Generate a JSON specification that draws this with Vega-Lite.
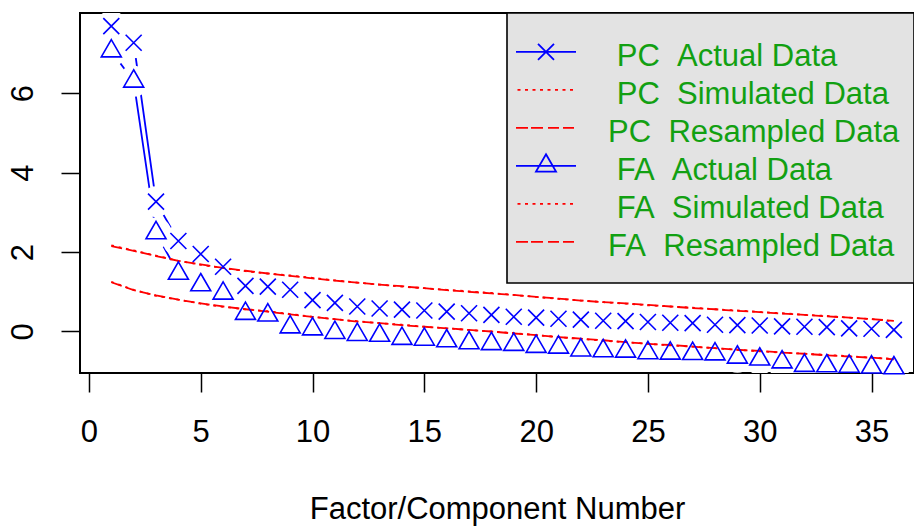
{
  "$schema": "https://vega.github.io/schema/vega-lite/v6.json",
  "width": 834,
  "height": 360,
  "padding": {"left": 80, "top": 13, "right": 0, "bottom": 153},
  "autosize": {"type": "none"},
  "background": "white",
  "datasets": {
    "ev": [
      {"n": 1, "pc": 7.69, "fa": 7.06, "pcs": 2.17, "pcr": 2.15, "fas": 1.25, "far": 1.24},
      {"n": 2, "pc": 7.27, "fa": 6.30, "pcs": 2.04, "pcr": 2.03, "fas": 1.05, "far": 1.04},
      {"n": 3, "pc": 3.27, "fa": 2.48, "pcs": 1.91, "pcr": 1.90, "fas": 0.90, "far": 0.91},
      {"n": 4, "pc": 2.28, "fa": 1.46, "pcs": 1.78, "pcr": 1.78, "fas": 0.80, "far": 0.80},
      {"n": 5, "pc": 1.95, "fa": 1.17, "pcs": 1.68, "pcr": 1.69, "fas": 0.70, "far": 0.71},
      {"n": 6, "pc": 1.63, "fa": 0.96, "pcs": 1.60, "pcr": 1.60, "fas": 0.62, "far": 0.63},
      {"n": 7, "pc": 1.15, "fa": 0.45, "pcs": 1.52, "pcr": 1.53, "fas": 0.56, "far": 0.56},
      {"n": 8, "pc": 1.13, "fa": 0.41, "pcs": 1.46, "pcr": 1.46, "fas": 0.51, "far": 0.50},
      {"n": 9, "pc": 1.05, "fa": 0.11, "pcs": 1.41, "pcr": 1.40, "fas": 0.44, "far": 0.43},
      {"n": 10, "pc": 0.79, "fa": 0.06, "pcs": 1.35, "pcr": 1.34, "fas": 0.37, "far": 0.37},
      {"n": 11, "pc": 0.72, "fa": -0.03, "pcs": 1.29, "pcr": 1.28, "fas": 0.31, "far": 0.31},
      {"n": 12, "pc": 0.63, "fa": -0.08, "pcs": 1.23, "pcr": 1.23, "fas": 0.26, "far": 0.25},
      {"n": 13, "pc": 0.58, "fa": -0.10, "pcs": 1.18, "pcr": 1.18, "fas": 0.21, "far": 0.21},
      {"n": 14, "pc": 0.55, "fa": -0.18, "pcs": 1.13, "pcr": 1.14, "fas": 0.17, "far": 0.16},
      {"n": 15, "pc": 0.53, "fa": -0.20, "pcs": 1.09, "pcr": 1.09, "fas": 0.12, "far": 0.12},
      {"n": 16, "pc": 0.50, "fa": -0.24, "pcs": 1.05, "pcr": 1.04, "fas": 0.08, "far": 0.08},
      {"n": 17, "pc": 0.46, "fa": -0.29, "pcs": 1.01, "pcr": 1.00, "fas": 0.04, "far": 0.04},
      {"n": 18, "pc": 0.42, "fa": -0.31, "pcs": 0.97, "pcr": 0.96, "fas": 0.00, "far": 0.00},
      {"n": 19, "pc": 0.37, "fa": -0.33, "pcs": 0.92, "pcr": 0.92, "fas": -0.04, "far": -0.05},
      {"n": 20, "pc": 0.35, "fa": -0.38, "pcs": 0.87, "pcr": 0.87, "fas": -0.09, "far": -0.09},
      {"n": 21, "pc": 0.32, "fa": -0.40, "pcs": 0.82, "pcr": 0.83, "fas": -0.14, "far": -0.14},
      {"n": 22, "pc": 0.30, "fa": -0.47, "pcs": 0.78, "pcr": 0.78, "fas": -0.19, "far": -0.18},
      {"n": 23, "pc": 0.27, "fa": -0.49, "pcs": 0.74, "pcr": 0.74, "fas": -0.23, "far": -0.22},
      {"n": 24, "pc": 0.26, "fa": -0.50, "pcs": 0.70, "pcr": 0.71, "fas": -0.27, "far": -0.27},
      {"n": 25, "pc": 0.24, "fa": -0.54, "pcs": 0.66, "pcr": 0.67, "fas": -0.31, "far": -0.31},
      {"n": 26, "pc": 0.22, "fa": -0.55, "pcs": 0.63, "pcr": 0.63, "fas": -0.35, "far": -0.34},
      {"n": 27, "pc": 0.21, "fa": -0.56, "pcs": 0.60, "pcr": 0.59, "fas": -0.38, "far": -0.38},
      {"n": 28, "pc": 0.17, "fa": -0.57, "pcs": 0.56, "pcr": 0.56, "fas": -0.42, "far": -0.42},
      {"n": 29, "pc": 0.16, "fa": -0.65, "pcs": 0.53, "pcr": 0.52, "fas": -0.46, "far": -0.46},
      {"n": 30, "pc": 0.15, "fa": -0.70, "pcs": 0.49, "pcr": 0.49, "fas": -0.50, "far": -0.49},
      {"n": 31, "pc": 0.13, "fa": -0.77, "pcs": 0.46, "pcr": 0.45, "fas": -0.53, "far": -0.53},
      {"n": 32, "pc": 0.12, "fa": -0.86, "pcs": 0.42, "pcr": 0.42, "fas": -0.56, "far": -0.56},
      {"n": 33, "pc": 0.11, "fa": -0.87, "pcs": 0.39, "pcr": 0.38, "fas": -0.59, "far": -0.60},
      {"n": 34, "pc": 0.08, "fa": -0.88, "pcs": 0.35, "pcr": 0.35, "fas": -0.62, "far": -0.63},
      {"n": 35, "pc": 0.07, "fa": -0.90, "pcs": 0.31, "pcr": 0.31, "fas": -0.66, "far": -0.66},
      {"n": 36, "pc": 0.04, "fa": -0.92, "pcs": 0.26, "pcr": 0.27, "fas": -0.69, "far": -0.70}
    ],
    "legendrows": [{"series": "none"}]
  },
  "layer": [
    {
      "data": {"name": "ev"},
      "mark": {"type": "line", "color": "#0000ff", "strokeWidth": 1.8},
      "encoding": {
        "x": {
          "field": "n", "type": "quantitative",
          "scale": {"domain": [-0.4, 36.9], "nice": false, "zero": false},
          "axis": {
            "values": [0, 5, 10, 15, 20, 25, 30, 35],
            "title": "Factor/Component Number",
            "grid": false, "domain": false,
            "tickSize": 19, "tickColor": "black", "tickWidth": 1.5,
            "labelFont": "Liberation Sans", "labelFontSize": 31, "labelColor": "black",
            "labelPadding": 25.7, "labelFlush": false,
            "titleFont": "Liberation Sans", "titleFontSize": 31, "titleFontWeight": "normal",
            "titleColor": "black", "titlePadding": 47
          }
        },
        "y": {
          "field": "pc", "type": "quantitative",
          "scale": {"domain": [-1.045, 8.02], "nice": false, "zero": false},
          "axis": {
            "values": [0, 2, 4, 6],
            "title": null,
            "grid": false, "domain": false,
            "tickSize": 19, "tickColor": "black", "tickWidth": 1.5,
            "labelFont": "Liberation Sans", "labelFontSize": 31, "labelColor": "black",
            "labelAngle": -90, "labelPadding": 21.5, "labelFlush": false
          }
        }
      }
    },
    {
      "data": {"name": "ev"},
      "mark": {"type": "line", "color": "#0000ff", "strokeWidth": 1.8},
      "encoding": {
        "x": {"field": "n", "type": "quantitative"},
        "y": {"field": "fa", "type": "quantitative"}
      }
    },
    {
      "data": {"name": "ev"},
      "mark": {"type": "point", "shape": "circle", "filled": true, "color": "white", "opacity": 1, "size": 960, "strokeWidth": 0, "clip": true},
      "encoding": {
        "x": {"field": "n", "type": "quantitative"},
        "y": {"field": "pc", "type": "quantitative"}
      }
    },
    {
      "data": {"name": "ev"},
      "mark": {"type": "point", "shape": "circle", "filled": true, "color": "white", "opacity": 1, "size": 960, "strokeWidth": 0, "clip": true},
      "encoding": {
        "x": {"field": "n", "type": "quantitative"},
        "y": {"field": "fa", "type": "quantitative"}
      }
    },
    {
      "data": {"name": "ev"},
      "mark": {"type": "line", "color": "#ff0000", "strokeWidth": 1.8, "strokeDash": [2.7, 4.8]},
      "encoding": {
        "x": {"field": "n", "type": "quantitative"},
        "y": {"field": "pcs", "type": "quantitative"}
      }
    },
    {
      "data": {"name": "ev"},
      "mark": {"type": "line", "color": "#ff0000", "strokeWidth": 1.8, "strokeDash": [11, 4]},
      "encoding": {
        "x": {"field": "n", "type": "quantitative"},
        "y": {"field": "pcr", "type": "quantitative"}
      }
    },
    {
      "data": {"name": "ev"},
      "mark": {"type": "line", "color": "#ff0000", "strokeWidth": 1.8, "strokeDash": [2.7, 4.8]},
      "encoding": {
        "x": {"field": "n", "type": "quantitative"},
        "y": {"field": "fas", "type": "quantitative"}
      }
    },
    {
      "data": {"name": "ev"},
      "mark": {"type": "line", "color": "#ff0000", "strokeWidth": 1.8, "strokeDash": [11, 4]},
      "encoding": {
        "x": {"field": "n", "type": "quantitative"},
        "y": {"field": "far", "type": "quantitative"}
      }
    },
    {
      "mark": {"type": "rule", "color": "black", "strokeWidth": 1.5},
      "encoding": {"y": {"datum": 1}}
    },
    {
      "data": {"name": "ev"},
      "mark": {"type": "point", "shape": "M-1,-1L1,1M-1,1L1,-1", "filled": false, "color": "#0000ff", "opacity": 1, "size": 256, "strokeWidth": 1.6},
      "encoding": {
        "x": {"field": "n", "type": "quantitative"},
        "y": {"field": "pc", "type": "quantitative"}
      }
    },
    {
      "data": {"name": "ev"},
      "mark": {"type": "point", "shape": "M0,-1.155L1,0.577L-1,0.577Z", "filled": false, "color": "#0000ff", "opacity": 1, "size": 400, "strokeWidth": 1.6},
      "encoding": {
        "x": {"field": "n", "type": "quantitative"},
        "y": {"field": "fa", "type": "quantitative"}
      }
    },
    {
      "data": {"name": "legendrows"},
      "transform": [{"filter": "false"}],
      "mark": {"type": "point", "filled": false, "opacity": 1, "strokeWidth": 1.8},
      "encoding": {
        "shape": {
          "field": "series", "type": "nominal",
          "scale": {
            "domain": [
              "\u200b\u00a0\u00a0PC\u00a0\u00a0Actual Data",
              "\u200b\u00a0\u00a0PC\u00a0\u00a0Simulated Data",
              "\u200b\u00a0PC\u00a0\u00a0Resampled Data",
              "\u200b\u00a0\u00a0FA\u00a0\u00a0Actual Data",
              "\u200b\u00a0\u00a0FA\u00a0\u00a0Simulated Data",
              "\u200b\u00a0FA\u00a0\u00a0Resampled Data"
            ],
            "range": [
              "M0,-1.75M0,1.75M-3,-0.55H3M-0.8,-1.35L0.8,0.25M-0.8,0.25L0.8,-1.35",
              "M0,-1.75M0,1.75M-2.85,-0.55H-2.55M-2.1,-0.55H-1.8M-1.35,-0.55H-1.05M-0.6,-0.55H-0.3M0.15,-0.55H0.45M0.9,-0.55H1.2M1.65,-0.55H1.95M2.4,-0.55H2.7",
              "M0,-1.75M0,1.75M-3,-0.55H-1.8M-1.5,-0.55H-0.3M0.2,-0.55H1.3M1.7,-0.55H2.8",
              "M0,-1.75M0,1.75M-3,-0.55H3M0,-1.705L1,0.027L-1,0.027Z",
              "M0,-1.75M0,1.75M-2.85,-0.55H-2.55M-2.1,-0.55H-1.8M-1.35,-0.55H-1.05M-0.6,-0.55H-0.3M0.15,-0.55H0.45M0.9,-0.55H1.2M1.65,-0.55H1.95M2.4,-0.55H2.7",
              "M0,-1.75M0,1.75M-3,-0.55H-1.8M-1.5,-0.55H-0.3M0.2,-0.55H1.3M1.7,-0.55H2.8"
            ]
          },
          "legend": {"title": "\u00a0"}
        },
        "color": {
          "field": "series", "type": "nominal",
          "scale": {
            "domain": [
              "\u200b\u00a0\u00a0PC\u00a0\u00a0Actual Data",
              "\u200b\u00a0\u00a0PC\u00a0\u00a0Simulated Data",
              "\u200b\u00a0PC\u00a0\u00a0Resampled Data",
              "\u200b\u00a0\u00a0FA\u00a0\u00a0Actual Data",
              "\u200b\u00a0\u00a0FA\u00a0\u00a0Simulated Data",
              "\u200b\u00a0FA\u00a0\u00a0Resampled Data"
            ],
            "range": ["#0000ff", "#ff0000", "#ff0000", "#0000ff", "#ff0000", "#ff0000"]
          },
          "legend": {"title": "\u00a0"}
        }
      }
    }
  ],
  "config": {
    "view": {"stroke": "black", "strokeWidth": 2},
    "legend": {
      "orient": "none",
      "legendX": 427,
      "legendY": 0,
      "padding": 13.8,
      "fillColor": "#e3e3e3",
      "strokeColor": "black",
      "strokeWidth": 1.6,
      "titleFontSize": 1,
      "titlePadding": 14,
      "symbolSize": 400,
      "symbolStrokeWidth": 1.8,
      "symbolOffset": 9.7,
      "labelOffset": 38,
      "labelFont": "Liberation Sans",
      "labelFontSize": 31,
      "labelColor": "#12a012",
      "labelBaseline": "middle",
      "rowPadding": -5,
      "labelLimit": 0
    }
  }
}
